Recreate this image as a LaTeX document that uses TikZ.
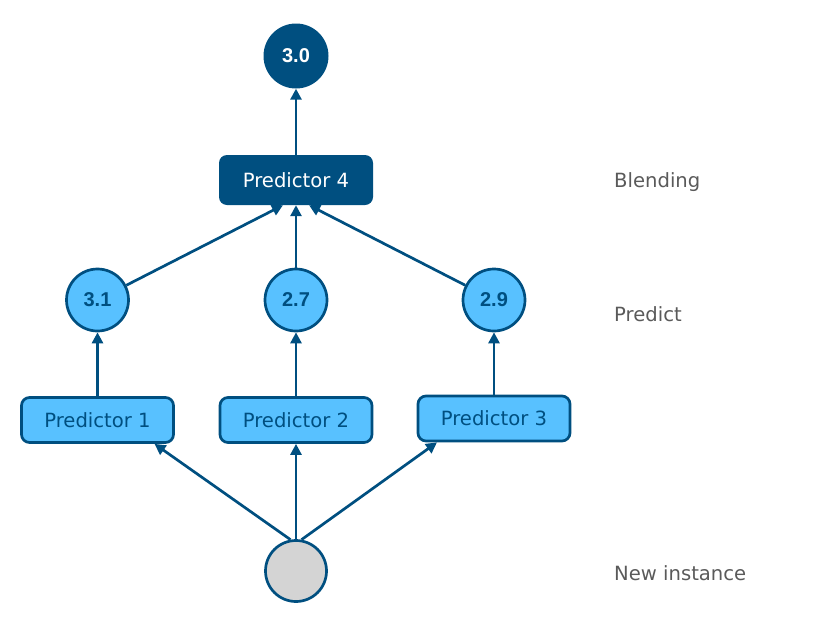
\documentclass[tikz,border=0pt]{standalone}
\usepackage{fontspec}
\setmainfont{DejaVu Sans}
\newfontfamily\numfont{Liberation Sans}
\usetikzlibrary{arrows.meta}
\definecolor{dblue}{HTML}{004F80}
\definecolor{lblue}{HTML}{58C1FF}
\definecolor{lgray}{HTML}{D4D4D4}
\definecolor{tgray}{HTML}{5A5A5A}
\begin{document}
\begin{tikzpicture}[x=1pt,y=-1pt,
  conn/.style={draw=dblue,line width=2.7pt,-{Triangle[length=11pt,width=11pt]}},
  lbox/.style={draw=dblue,line width=2.7pt,fill=lblue,rounded corners=8pt,minimum width=152pt,minimum height=45pt,inner sep=0pt,text=dblue,font=\fontsize{19.6}{22}\selectfont},
  dbox/.style={fill=dblue,rounded corners=8pt,minimum width=154pt,minimum height=50pt,inner sep=0pt,text=white,font=\fontsize{19.6}{22}\selectfont},
  lcirc/.style={circle,draw=dblue,line width=2.7pt,fill=lblue,minimum size=62pt,inner sep=0pt,text=dblue,font=\numfont\bfseries\fontsize{20}{22}\selectfont},
  dcirc/.style={circle,fill=dblue,minimum size=65pt,inner sep=0pt,text=white,font=\numfont\bfseries\fontsize{20}{22}\selectfont},
  gcirc/.style={circle,draw=dblue,line width=2.7pt,fill=lgray,minimum size=61pt,inner sep=0pt},
  lab/.style={anchor=west,text=tgray,font=\fontsize{19.6}{22}\selectfont,inner sep=0pt}]
\useasboundingbox (0,0) rectangle (818,621);
\node[dcirc] (top) at (296,56) {3.0};
\node[dbox] (p4) at (296,180) {Predictor 4};
\node[lcirc] (c1) at (97.5,300) {3.1};
\node[lcirc] (c2) at (296,300) {2.7};
\node[lcirc] (c3) at (494,300) {2.9};
\node[lbox] (p1) at (97.5,420) {Predictor 1};
\node[lbox] (p2) at (296,420) {Predictor 2};
\node[lbox] (p3) at (494,418.5) {Predictor 3};
\node[gcirc] (inst) at (296,571) {};
\node[lab] (lb) at (614,182) {Blending};
\node[lab] (lp) at (614,314) {Predict};
\node[lab] (ln) at (614,573) {New instance};
\draw[conn] (p4) -- (top);
\draw[conn] (c1) -- ([xshift=-13pt]p4.south);
\draw[conn] (c2) -- (p4);
\draw[conn] (c3) -- ([xshift=13pt]p4.south);
\draw[conn] (p1) -- (c1);
\draw[conn] (p2) -- (c2);
\draw[conn] (p3) -- (c3);
\draw[conn] (inst.100) -- ([xshift=57pt]p1.south);
\draw[conn] (inst.north) -- (p2);
\draw[conn] (inst.80) -- ([xshift=-57pt]p3.south);
\end{tikzpicture}
\end{document}
